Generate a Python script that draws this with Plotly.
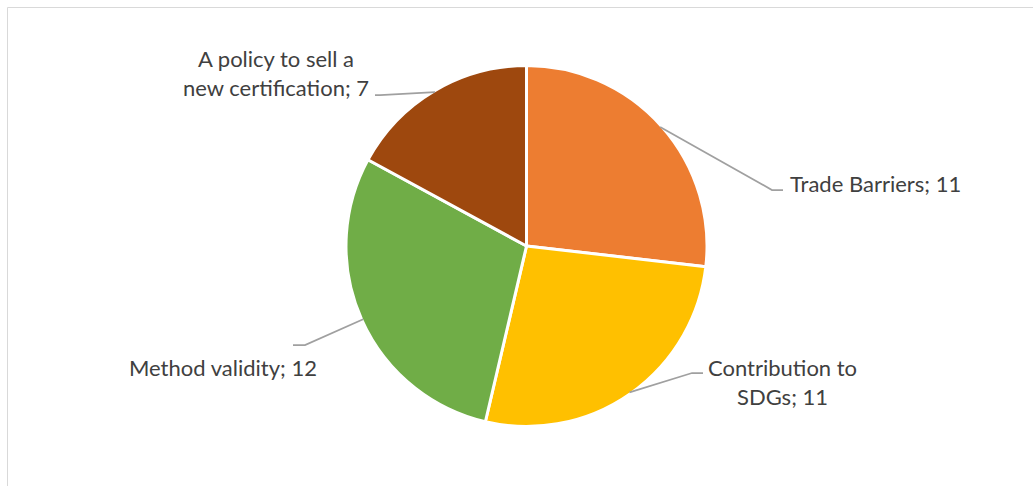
import math
import plotly.graph_objects as go

# ---- data ----
labels = ["Trade Barriers", "Contribution to SDGs", "Method validity", "A policy to sell a new certification"]
values = [11, 11, 12, 7]
label_texts = ["Trade Barriers; 11", "Contribution to<br>SDGs; 11", "Method validity; 12",
               "A policy to sell a<br>new certification; 7"]
colors = ["#ED7D31", "#FFC000", "#70AD47", "#9E480E"]

W, H = 1033, 486
CX, CY, R = 526.5, 246.0, 178.0


def px(x):
    return x / W


def py(y):
    return 1 - y / H


DR = R + 2.5
fig = go.Figure(go.Pie(
    labels=labels, values=values, sort=False, direction="clockwise", rotation=0,
    marker=dict(colors=colors, line=dict(color="white", width=3)),
    textinfo="none", hoverinfo="label+value", showlegend=False,
    domain=dict(x=[px(CX - DR), px(CX + DR)], y=[py(CY + DR), py(CY - DR)]),
))

# label layout (pixel positions of the bend, line end, and text anchor)
bends = [(772, 190), (692, 373), (305, 345), (380, 95)]
ends = [(783, 190), (703, 373), (293, 345), (375, 95)]
text_pos = [(788, 183, "left"), (782, 382, "center"), (223, 367, "center"), (276, 73, "center")]

total = sum(values)
shapes = []
annotations = []
cum = 0
for i, v in enumerate(values):
    mid = (cum + v / 2) / total * 2 * math.pi
    cum += v
    sx = CX + (R + 1) * math.sin(mid)
    sy = CY - (R + 1) * math.cos(mid)
    bx, by = bends[i]
    ex, ey = ends[i]
    shapes.append(dict(
        type="path", xref="paper", yref="paper",
        path=f"M {px(sx)},{py(sy)} L {px(bx)},{py(by)} L {px(ex)},{py(ey)}",
        line=dict(color="#A0A0A0", width=1.75),
    ))
    tx, ty, anchor = text_pos[i]
    annotations.append(dict(
        x=px(tx), y=py(ty), xref="paper", yref="paper", text=label_texts[i],
        showarrow=False, xanchor=anchor, yanchor="middle", align="center",
        font=dict(family="Lato", size=22, color="#404040"),
    ))

# chart-area border (left and top edges visible)
shapes.append(dict(type="line", xref="paper", yref="paper",
                   x0=px(7.5), y0=py(7.5), x1=1.0, y1=py(7.5),
                   line=dict(color="#D9D9D9", width=1)))
shapes.append(dict(type="line", xref="paper", yref="paper",
                   x0=px(7.5), y0=py(7.5), x1=px(7.5), y1=0.0,
                   line=dict(color="#D9D9D9", width=1)))

fig.update_layout(
    width=W, height=H, margin=dict(l=0, r=0, t=0, b=0),
    paper_bgcolor="white", plot_bgcolor="white",
    shapes=shapes, annotations=annotations,
)

fig.write_html("out.html")
